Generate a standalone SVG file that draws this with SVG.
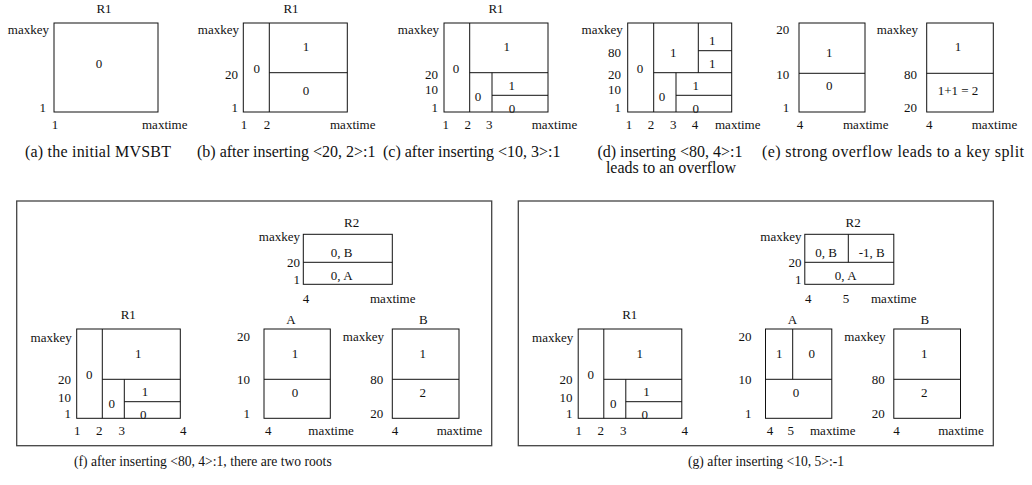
<svg xmlns="http://www.w3.org/2000/svg" width="1032" height="485" viewBox="0 0 1032 485">
<style>
text{font-family:"Liberation Serif","Times New Roman",serif;font-size:13px;fill:#111}
.m{text-anchor:middle}
.e{text-anchor:end}
.cap{font-size:16px}
.capb{font-size:13.6px}
.b{fill:none;stroke:#111;stroke-width:1}
.f{fill:none;stroke:#444;stroke-width:1.3}
</style>
<rect width="1032" height="485" fill="#fff"/>

<g id="panel-a">
<rect class="b" x="54" y="23" width="104" height="89"/>
<text class="m" x="104" y="13">R1</text>
<text class="e" x="49" y="34">maxkey</text>
<text class="e" x="46" y="112">1</text>
<text class="m" x="99" y="68">0</text>
<text class="m" x="55" y="129">1</text>
<text x="142" y="129">maxtime</text>
<text class="cap" x="25" y="157" textLength="146" lengthAdjust="spacing">(a) the initial MVSBT</text>
</g>

<g id="panel-b">
<rect class="b" x="243.3" y="23" width="104" height="89"/>
<path class="b" d="M269.3 23V112M269.3 72.7H347.3"/>
<text class="m" x="291" y="13">R1</text>
<text class="e" x="239" y="34">maxkey</text>
<text class="e" x="238" y="79">20</text>
<text class="e" x="238" y="112">1</text>
<text class="m" x="256.7" y="73">0</text>
<text class="m" x="306" y="51">1</text>
<text class="m" x="306" y="95">0</text>
<text class="m" x="244" y="129">1</text>
<text class="m" x="267" y="129">2</text>
<text x="330" y="129">maxtime</text>
<text class="cap" x="197" y="157">(b) after inserting &lt;20, 2&gt;:1</text>
</g>

<g id="panel-c">
<rect class="b" x="444" y="23" width="104" height="89"/>
<path class="b" d="M469.7 23V112M469.7 72.7H548M492 72.7V112M492 95.3H548"/>
<text class="m" x="496" y="13">R1</text>
<text class="e" x="439" y="34">maxkey</text>
<text class="e" x="438" y="79">20</text>
<text class="e" x="438" y="94">10</text>
<text class="e" x="438" y="112">1</text>
<text class="m" x="456" y="73">0</text>
<text class="m" x="506.7" y="51">1</text>
<text class="m" x="478" y="101">0</text>
<text class="m" x="511.7" y="90">1</text>
<text class="m" x="512" y="112.5">0</text>
<text class="m" x="445.7" y="129">1</text>
<text class="m" x="467.7" y="129">2</text>
<text class="m" x="489.3" y="129">3</text>
<text x="531.7" y="129">maxtime</text>
<text class="cap" x="383" y="157">(c) after inserting &lt;10, 3&gt;:1</text>
</g>

<g id="panel-d">
<rect class="b" x="627.7" y="23" width="104" height="89"/>
<path class="b" d="M653.7 23V112M653.7 72.7H731.7M676 72.7V112M676 95.3H731.7M698.3 23V72.7M698.3 50.7H731.7"/>
<text class="e" x="622.7" y="34">maxkey</text>
<text class="e" x="621" y="57">80</text>
<text class="e" x="621" y="79">20</text>
<text class="e" x="621" y="94">10</text>
<text class="e" x="621" y="112">1</text>
<text class="m" x="640" y="73">0</text>
<text class="m" x="673.3" y="56.5">1</text>
<text class="m" x="712.3" y="45">1</text>
<text class="m" x="712.3" y="67.5">1</text>
<text class="m" x="662" y="101">0</text>
<text class="m" x="695.7" y="90">1</text>
<text class="m" x="695.7" y="112.5">0</text>
<text class="m" x="629" y="129">1</text>
<text class="m" x="651" y="129">2</text>
<text class="m" x="673.3" y="129">3</text>
<text class="m" x="695" y="129">4</text>
<text x="715" y="129">maxtime</text>
<text class="cap m" x="670" y="157">(d) inserting &lt;80, 4&gt;:1</text>
<text class="cap m" x="671" y="173">leads to an overflow</text>
</g>

<g id="panel-e">
<rect class="b" x="799" y="23" width="66" height="89"/>
<path class="b" d="M799 73.3H865"/>
<text class="e" x="789.3" y="34">20</text>
<text class="e" x="789.3" y="79">10</text>
<text class="e" x="789.3" y="112">1</text>
<text class="m" x="829.3" y="56.5">1</text>
<text class="m" x="829.3" y="90">0</text>
<text class="m" x="800" y="129">4</text>
<text x="843" y="129">maxtime</text>
<rect class="b" x="926.7" y="23" width="66.6" height="89"/>
<path class="b" d="M926.7 73.3H993.3"/>
<text class="e" x="918" y="34">maxkey</text>
<text class="e" x="917" y="79">80</text>
<text class="e" x="917" y="112">20</text>
<text class="m" x="958" y="51">1</text>
<text class="m" x="958" y="95">1+1 = 2</text>
<text class="m" x="929.3" y="129">4</text>
<text x="971.7" y="129">maxtime</text>
<text class="cap" x="762" y="157" textLength="262" lengthAdjust="spacing">(e) strong overflow leads to a key split</text>
</g>

<g id="panel-f">
<rect class="f" x="16.7" y="201" width="475" height="244.7"/>
<g id="f-R1">
<rect class="b" x="76.7" y="329" width="103.6" height="89.3"/>
<path class="b" d="M102.3 329V418.3M102.3 379.3H180.3M124.3 379.3V418.3M124.3 401.7H180.3"/>
<text class="m" x="128.3" y="319">R1</text>
<text class="e" x="71.7" y="341.5">maxkey</text>
<text class="e" x="71" y="384">20</text>
<text class="e" x="71" y="401.5">10</text>
<text class="e" x="71" y="418">1</text>
<text class="m" x="89.3" y="379">0</text>
<text class="m" x="138.3" y="357.5">1</text>
<text class="m" x="111.7" y="407.5">0</text>
<text class="m" x="145" y="396">1</text>
<text class="m" x="143.3" y="419">0</text>
<text class="m" x="77.3" y="435">1</text>
<text class="m" x="99.3" y="435">2</text>
<text class="m" x="121.7" y="435">3</text>
<text class="m" x="183.3" y="435">4</text>
</g>
<g id="f-R2">
<rect class="b" x="303.3" y="234.3" width="89" height="50"/>
<path class="b" d="M303.3 262.3H392.3"/>
<text class="m" x="351.7" y="227">R2</text>
<text class="e" x="300" y="241">maxkey</text>
<text class="e" x="300" y="267">20</text>
<text class="e" x="300" y="284">1</text>
<text class="m" x="341.7" y="256.5">0, B</text>
<text class="m" x="341.7" y="280">0, A</text>
<text class="m" x="306" y="303">4</text>
<text x="370" y="303">maxtime</text>
</g>
<g id="f-A">
<rect class="b" x="264" y="329" width="66.3" height="89.3"/>
<path class="b" d="M264 379.3H330.3"/>
<text class="m" x="291" y="323.5">A</text>
<text class="e" x="250" y="341">20</text>
<text class="e" x="250" y="384">10</text>
<text class="e" x="250" y="418">1</text>
<text class="m" x="295" y="357.5">1</text>
<text class="m" x="295" y="396.5">0</text>
<text class="m" x="268.3" y="435">4</text>
<text x="308.3" y="435">maxtime</text>
</g>
<g id="f-B">
<rect class="b" x="392.3" y="329" width="66.7" height="89.3"/>
<path class="b" d="M392.3 379.3H459"/>
<text class="m" x="423.3" y="323.5">B</text>
<text class="e" x="384" y="341">maxkey</text>
<text class="e" x="383.3" y="384">80</text>
<text class="e" x="383.3" y="418">20</text>
<text class="m" x="422.7" y="357.5">1</text>
<text class="m" x="422.7" y="396.5">2</text>
<text class="m" x="395" y="435">4</text>
<text x="436.7" y="435">maxtime</text>
</g>
<text class="capb" x="74" y="466">(f) after inserting &lt;80, 4&gt;:1, there are two roots</text>
</g>

<g id="panel-g">
<rect class="f" x="518.3" y="201" width="475" height="244.7"/>
<g id="g-R1" transform="translate(501.5,0)">
<rect class="b" x="76.7" y="329" width="103.6" height="89.3"/>
<path class="b" d="M102.3 329V418.3M102.3 379.3H180.3M124.3 379.3V418.3M124.3 401.7H180.3"/>
<text class="m" x="128.3" y="319">R1</text>
<text class="e" x="71.7" y="341.5">maxkey</text>
<text class="e" x="71" y="384">20</text>
<text class="e" x="71" y="401.5">10</text>
<text class="e" x="71" y="418">1</text>
<text class="m" x="89.3" y="379">0</text>
<text class="m" x="138.3" y="357.5">1</text>
<text class="m" x="111.7" y="407.5">0</text>
<text class="m" x="145" y="396">1</text>
<text class="m" x="143.3" y="419">0</text>
<text class="m" x="77.3" y="435">1</text>
<text class="m" x="99.3" y="435">2</text>
<text class="m" x="121.7" y="435">3</text>
<text class="m" x="183.3" y="435">4</text>
</g>
<g id="g-R2">
<rect class="b" x="804.8" y="234.3" width="89" height="50"/>
<path class="b" d="M804.8 262.3H893.8M848.3 234.3V262.3"/>
<text class="m" x="853.2" y="227">R2</text>
<text class="e" x="801.5" y="241">maxkey</text>
<text class="e" x="801.5" y="267">20</text>
<text class="e" x="801.5" y="284">1</text>
<text class="m" x="826" y="256.5">0, B</text>
<text class="m" x="871.7" y="256.5">-1, B</text>
<text class="m" x="845.7" y="280">0, A</text>
<text class="m" x="808.3" y="303">4</text>
<text class="m" x="846" y="303">5</text>
<text x="871" y="303">maxtime</text>
</g>
<g id="g-A">
<rect class="b" x="765.5" y="329" width="66.3" height="89.3"/>
<path class="b" d="M765.5 379.3H831.8M792.7 329V379.3"/>
<text class="m" x="792.5" y="323.5">A</text>
<text class="e" x="751.5" y="341">20</text>
<text class="e" x="751.5" y="384">10</text>
<text class="e" x="751.5" y="418">1</text>
<text class="m" x="779.3" y="357.5">1</text>
<text class="m" x="811.7" y="357.5">0</text>
<text class="m" x="796" y="396.5">0</text>
<text class="m" x="770" y="435">4</text>
<text class="m" x="790.7" y="435">5</text>
<text x="810" y="435">maxtime</text>
</g>
<g id="g-B" transform="translate(501.5,0)">
<rect class="b" x="392.3" y="329" width="66.7" height="89.3"/>
<path class="b" d="M392.3 379.3H459"/>
<text class="m" x="423.3" y="323.5">B</text>
<text class="e" x="384" y="341">maxkey</text>
<text class="e" x="383.3" y="384">80</text>
<text class="e" x="383.3" y="418">20</text>
<text class="m" x="422.7" y="357.5">1</text>
<text class="m" x="422.7" y="396.5">2</text>
<text class="m" x="395" y="435">4</text>
<text x="436.7" y="435">maxtime</text>
</g>
<text class="capb" x="688" y="466">(g) after inserting &lt;10, 5&gt;:-1</text>
</g>

<g id="connectors"></g>
</svg>
